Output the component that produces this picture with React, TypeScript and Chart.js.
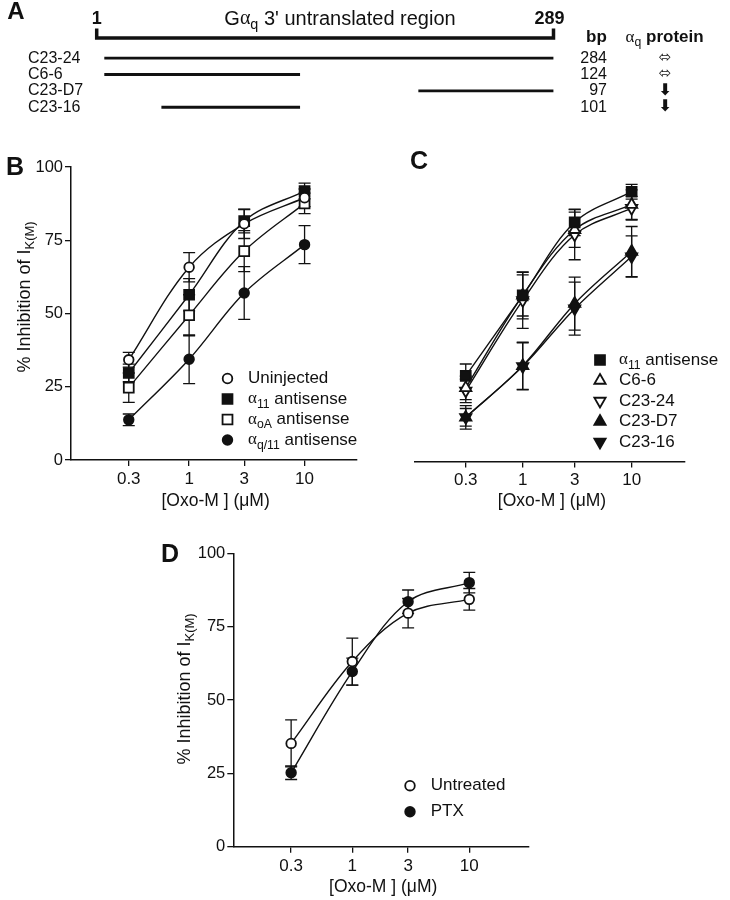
import React, { useEffect, useRef } from "react";
import { Chart, registerables } from "chart.js";

Chart.register(...registerables);

const SANS = "'Liberation Sans', Arial, Helvetica, sans-serif";
const SERIF = "'Liberation Serif', 'Times New Roman', serif";
const SYMBOL = "'DejaVu Sans', sans-serif";
const INK = "#111";

// ---------------- Panel A data ----------------
const A_REGION_START = 1;
const A_REGION_END = 289;
const A_FRAGMENTS = ["C23-24", "C6-6", "C23-D7", "C23-16"];
const A_FRAG_START = [6, 6, 204, 42];
const A_FRAG_END = [289, 129, 289, 129];
const A_FRAG_BP = ["284", "124", "97", "101"];
const A_PROTEIN = ["⬄", "⬄", "⬇", "⬇"];

// ---------------- Shared axes ----------------
const DOSES = [0.3, 1, 3, 10];
const DOSE_LABELS = ["0.3", "1", "3", "10"];
const Y_TICKS = [0, 25, 50, 75, 100];
const X_TITLE = "[Oxo-M ] (μM)";
const Y_TITLE_MAIN = "% Inhibition of I";
const Y_TITLE_SUB = "K(M)";

// ---------------- Panel B data ----------------
const B_NAME_MAIN = ["Uninjected", "α", "α", "α"];
const B_NAME_SUB = ["", "11", "oA", "q/11"];
const B_NAME_REST = ["", " antisense", " antisense", " antisense"];
const B_UNINJECTED = [34.2, 65.8, 80.6, 89.5];
const B_UNINJECTED_ERR = [2.5, 5, 5, 3];
const B_A11 = [29.7, 56.4, 81.5, 91.8];
const B_A11_ERR = [3, 5.5, 4, 2.7];
const B_AOA = [24.7, 49.4, 71.3, 87.6];
const B_AOA_ERR = [5, 7, 7, 3.5];
const B_AQ11 = [13.7, 34.4, 57.0, 73.5];
const B_AQ11_ERR = [2, 8.3, 9, 6.5];

// ---------------- Panel C data ----------------
const C_NAME_MAIN = ["α", "C6-6", "C23-24", "C23-D7", "C23-16"];
const C_NAME_SUB = ["11", "", "", "", ""];
const C_NAME_REST = [" antisense", "", "", "", ""];
const C_A11 = [29.1, 56.4, 81.2, 91.6];
const C_A11_ERR = [4, 7, 4.5, 2.5];
const C_C66 = [25.0, 56.4, 78.7, 87.2];
const C_C66_ERR = [4, 8, 6, 5];
const C_C2324 = [24.0, 54.7, 77.0, 86.0];
const C_C2324_ERR = [4, 9.5, 8.5, 4];
const C_C23D7 = [15.0, 32.5, 53.6, 71.3];
const C_C23D7_ERR = [3, 8, 9, 8.5];
const C_C2316 = [15.0, 32.3, 51.9, 69.6];
const C_C2316_ERR = [4, 8, 9, 7];

// ---------------- Panel D data ----------------
const D_NAMES = ["Untreated", "PTX"];
const D_UNTREATED = [35.2, 63.1, 79.6, 84.3];
const D_UNTREATED_ERR = [8, 8, 5, 3.7];
const D_PTX = [25.2, 59.7, 83.5, 90.0];
const D_PTX_ERR = [2.3, 4.6, 4, 3.5];

// ---------------- helpers ----------------
type Part = { t: string; sub?: boolean; serif?: boolean; bold?: boolean };
type Marker = { style: "circle" | "rect" | "triangle"; filled: boolean; rotation: number; radius: number };

const OPEN_CIRCLE: Marker = { style: "circle", filled: false, rotation: 0, radius: 4.8 };
const FILLED_CIRCLE: Marker = { style: "circle", filled: true, rotation: 0, radius: 4.8 };
const OPEN_SQUARE: Marker = { style: "rect", filled: false, rotation: 0, radius: 7 };
const FILLED_SQUARE: Marker = { style: "rect", filled: true, rotation: 0, radius: 7 };
const OPEN_UP: Marker = { style: "triangle", filled: false, rotation: 0, radius: 6.5 };
const OPEN_DOWN: Marker = { style: "triangle", filled: false, rotation: 180, radius: 6.5 };
const FILLED_UP: Marker = { style: "triangle", filled: true, rotation: 0, radius: 6.5 };
const FILLED_DOWN: Marker = { style: "triangle", filled: true, rotation: 180, radius: 6.5 };

function nameParts(main: string, sub: string, rest: string): Part[] {
  const parts: Part[] = [{ t: main, serif: /^[α-ω]$/.test(main) }];
  if (sub) parts.push({ t: sub, sub: true });
  if (rest) parts.push({ t: rest });
  return parts;
}

function partFont(p: Part, size: number) {
  const s = p.sub ? size * 0.72 : size;
  const fam = p.serif ? SERIF : SANS;
  return `${p.bold ? "bold " : ""}${s}px ${fam}`;
}

function partsWidth(ctx: CanvasRenderingContext2D, parts: Part[], size: number) {
  let w = 0;
  for (const p of parts) {
    ctx.font = partFont(p, size);
    w += ctx.measureText(p.t).width;
  }
  return w;
}

function drawParts(
  ctx: CanvasRenderingContext2D,
  parts: Part[],
  x: number,
  y: number,
  size: number,
  align: "left" | "center" | "right" = "left"
) {
  ctx.save();
  ctx.textBaseline = "middle";
  ctx.textAlign = "left";
  ctx.fillStyle = INK;
  const w = partsWidth(ctx, parts, size);
  let cx = align === "center" ? x - w / 2 : align === "right" ? x - w : x;
  for (const p of parts) {
    ctx.font = partFont(p, size);
    ctx.fillText(p.t, cx, p.sub ? y + size * 0.32 : y);
    cx += ctx.measureText(p.t).width;
  }
  ctx.restore();
}

function drawMarker(ctx: CanvasRenderingContext2D, m: Marker, x: number, y: number) {
  ctx.save();
  ctx.fillStyle = m.filled ? INK : "#fff";
  ctx.strokeStyle = INK;
  ctx.lineWidth = 1.8;
  ctx.beginPath();
  const r = m.radius;
  if (m.style === "circle") {
    ctx.arc(x, y, r, 0, Math.PI * 2);
  } else if (m.style === "rect") {
    const s = Math.SQRT1_2 * r;
    ctx.rect(x - s, y - s, 2 * s, 2 * s);
  } else {
    let rad = (m.rotation * Math.PI) / 180;
    ctx.moveTo(x + Math.sin(rad) * r, y - Math.cos(rad) * r);
    rad += (2 * Math.PI) / 3;
    ctx.lineTo(x + Math.sin(rad) * r, y - Math.cos(rad) * r);
    rad += (2 * Math.PI) / 3;
    ctx.lineTo(x + Math.sin(rad) * r, y - Math.cos(rad) * r);
    ctx.closePath();
  }
  ctx.fill();
  ctx.stroke();
  ctx.restore();
}

// ---------------- Panel A ----------------
const panelAPlugin = {
  id: "panelA",
  afterDraw(chart: any) {
    const ctx: CanvasRenderingContext2D = chart.ctx;
    const xs = chart.scales.x;
    const ys = chart.scales.y;
    const x0 = xs.getPixelForValue(A_REGION_START);
    const x1 = xs.getPixelForValue(A_REGION_END);
    ctx.save();
    ctx.strokeStyle = INK;
    ctx.fillStyle = INK;
    ctx.lineWidth = 3.5;
    ctx.lineJoin = "miter";
    ctx.beginPath();
    ctx.moveTo(x0, 28.5);
    ctx.lineTo(x0, 38);
    ctx.lineTo(x1, 38);
    ctx.lineTo(x1, 28.5);
    ctx.stroke();

    ctx.textBaseline = "middle";
    ctx.textAlign = "center";
    ctx.font = `bold 24px ${SANS}`;
    ctx.fillText("A", 16, 12);
    ctx.font = `bold 18px ${SANS}`;
    ctx.fillText(String(A_REGION_START), x0, 19);
    ctx.fillText(String(A_REGION_END), x1 - 4, 19);
    ctx.font = `bold 17px ${SANS}`;
    ctx.fillText("bp", 596.5, 37.5);
    ctx.restore();

    drawParts(
      ctx,
      [{ t: "G" }, { t: "α", serif: true }, { t: "q", sub: true }, { t: " 3' untranslated region" }],
      340,
      19,
      20,
      "center"
    );
    drawParts(
      ctx,
      [{ t: "α", serif: true }, { t: "q", sub: true }, { t: " protein", bold: true }],
      625.6,
      37.5,
      17,
      "left"
    );

    ctx.save();
    ctx.fillStyle = INK;
    ctx.textBaseline = "middle";
    A_FRAGMENTS.forEach((_, i) => {
      const y = ys.getPixelForValue(i);
      ctx.font = `16px ${SANS}`;
      ctx.textAlign = "right";
      ctx.fillText(A_FRAG_BP[i], 607, y);
      ctx.font = `${A_PROTEIN[i] === "⬇" ? "bold 16px" : "15px"} ${SYMBOL}`;
      ctx.textAlign = "center";
      ctx.fillText(A_PROTEIN[i], 665, y);
    });
    ctx.restore();
  },
};

function makePanelA(canvas: HTMLCanvasElement) {
  return new Chart(canvas, {
    type: "bar",
    data: {
      labels: A_FRAGMENTS,
      datasets: [
        {
          data: A_FRAGMENTS.map((_, i) => [A_FRAG_START[i], A_FRAG_END[i]]) as any,
          backgroundColor: INK,
          borderWidth: 0,
          barThickness: 2.2,
        },
      ],
    },
    options: {
      indexAxis: "y",
      responsive: false,
      animation: false,
      events: [],
      layout: { padding: { left: 28, top: 50, right: 176.5, bottom: 8.3 } },
      plugins: { legend: { display: false }, tooltip: { enabled: false } },
      scales: {
        x: { type: "linear", min: A_REGION_START, max: A_REGION_END, display: false },
        y: {
          type: "category",
          grid: { display: false },
          border: { display: false },
          ticks: {
            autoSkip: false,
            crossAlign: "far",
            color: INK,
            font: { family: SANS, size: 16 },
            padding: 0,
          },
          afterFit: (s: any) => {
            s.width = 68.7;
          },
        },
      },
    } as any,
    plugins: [panelAPlugin],
  });
}

// ---------------- Dose-response panels ----------------
type Series = { parts: Part[]; values: number[]; errors: number[]; marker: Marker };
type Spec = {
  width: number;
  height: number;
  area: { left: number; top: number; right: number; bottom: number };
  xMin: number;
  xMax: number;
  showY: boolean;
  series: Series[];
  letter: { t: string; x: number; y: number };
  xTitleY: number;
  yTitle?: { x: number; y: number };
  legend: { markerX: number; textX: number; y0: number; dy: number };
};

const errorBarPlugin = {
  id: "errorBars",
  beforeDatasetsDraw(chart: any) {
    const ctx: CanvasRenderingContext2D = chart.ctx;
    const xs = chart.scales.x;
    const ys = chart.scales.y;
    ctx.save();
    ctx.strokeStyle = INK;
    ctx.lineWidth = 1.3;
    chart.data.datasets.forEach((ds: any) => {
      ds.data.forEach((p: any, i: number) => {
        const e = ds.errors[i];
        const x = xs.getPixelForValue(p.x);
        const yt = ys.getPixelForValue(p.y + e);
        const yb = ys.getPixelForValue(p.y - e);
        ctx.beginPath();
        ctx.moveTo(x, yt);
        ctx.lineTo(x, yb);
        ctx.moveTo(x - 6, yt);
        ctx.lineTo(x + 6, yt);
        ctx.moveTo(x - 6, yb);
        ctx.lineTo(x + 6, yb);
        ctx.stroke();
      });
    });
    ctx.restore();
  },
};

function decoPlugin(spec: Spec) {
  return {
    id: "deco",
    afterDraw(chart: any) {
      const ctx: CanvasRenderingContext2D = chart.ctx;
      const a = chart.chartArea;
      ctx.save();
      ctx.fillStyle = INK;
      ctx.textAlign = "center";
      ctx.textBaseline = "middle";
      ctx.font = `bold 25px ${SANS}`;
      ctx.fillText(spec.letter.t, spec.letter.x, spec.letter.y);
      ctx.restore();

      drawParts(ctx, [{ t: X_TITLE }], (a.left + a.right) / 2 + 2, spec.xTitleY, 17.5, "center");

      if (spec.yTitle) {
        ctx.save();
        ctx.translate(spec.yTitle.x, spec.yTitle.y);
        ctx.rotate(-Math.PI / 2);
        drawParts(ctx, [{ t: Y_TITLE_MAIN }, { t: Y_TITLE_SUB, sub: true }], 0, 0, 18, "center");
        ctx.restore();
      }

      spec.series.forEach((s, i) => {
        const y = spec.legend.y0 + i * spec.legend.dy;
        drawMarker(ctx, s.marker, spec.legend.markerX, y);
        drawParts(ctx, s.parts, spec.legend.textX, y, 17, "left");
      });
    },
  };
}

function makeDoseChart(canvas: HTMLCanvasElement, spec: Spec) {
  const { area, width: W, height: H } = spec;
  const datasets = spec.series.map((s) => ({
    label: s.parts.map((p) => p.t).join(""),
    data: DOSES.map((d, i) => ({ x: d, y: s.values[i] })),
    errors: s.errors,
    showLine: true,
    tension: 0.35,
    borderColor: INK,
    borderWidth: 1.4,
    pointStyle: s.marker.style,
    pointRotation: s.marker.rotation,
    pointRadius: s.marker.radius,
    pointBackgroundColor: s.marker.filled ? INK : "#fff",
    pointBorderColor: INK,
    pointBorderWidth: 1.8,
    fill: false,
    clip: false,
  }));
  const tickFont = { family: SANS, size: 17 };
  return new Chart(canvas, {
    type: "scatter",
    data: { datasets } as any,
    options: {
      responsive: false,
      animation: false,
      events: [],
      layout: {
        padding: {
          left: spec.showY ? 0 : area.left,
          top: area.top,
          right: W - area.right,
          bottom: 0,
        },
      },
      plugins: { legend: { display: false }, tooltip: { enabled: false } },
      scales: {
        x: {
          type: "logarithmic",
          min: spec.xMin,
          max: spec.xMax,
          afterBuildTicks: (s: any) => {
            s.ticks = DOSES.map((v) => ({ value: v }));
          },
          ticks: {
            autoSkip: false,
            maxRotation: 0,
            minRotation: 0,
            color: INK,
            font: tickFont,
            padding: 3,
            callback: (_v: any, i: number) => DOSE_LABELS[i],
          },
          grid: { display: true, drawOnChartArea: false, drawTicks: true, tickLength: 6, color: INK, lineWidth: 1.3 },
          border: { display: true, color: INK, width: 1.5 },
          afterFit: (s: any) => {
            s.height = H - area.bottom;
          },
        },
        y: {
          type: "linear",
          display: spec.showY,
          min: 0,
          max: 100,
          afterBuildTicks: (s: any) => {
            s.ticks = Y_TICKS.map((v) => ({ value: v }));
          },
          ticks: { color: INK, font: { family: SANS, size: 16.5 }, padding: 2 },
          grid: { display: true, drawOnChartArea: false, drawTicks: true, tickLength: 6, color: INK, lineWidth: 1.3 },
          border: { display: true, color: INK, width: 1.5 },
          afterFit: (s: any) => {
            s.width = area.left;
          },
        },
      },
    } as any,
    plugins: [errorBarPlugin, decoPlugin(spec)],
  });
}

const SPEC_B: Spec = {
  width: 365,
  height: 385,
  area: { left: 71, top: 37, right: 362, bottom: 330 },
  xMin: 0.0948,
  xMax: 28.0,
  showY: true,
  series: [
    { parts: nameParts(B_NAME_MAIN[0], B_NAME_SUB[0], B_NAME_REST[0]), values: B_UNINJECTED, errors: B_UNINJECTED_ERR, marker: OPEN_CIRCLE },
    { parts: nameParts(B_NAME_MAIN[1], B_NAME_SUB[1], B_NAME_REST[1]), values: B_A11, errors: B_A11_ERR, marker: FILLED_SQUARE },
    { parts: nameParts(B_NAME_MAIN[2], B_NAME_SUB[2], B_NAME_REST[2]), values: B_AOA, errors: B_AOA_ERR, marker: OPEN_SQUARE },
    { parts: nameParts(B_NAME_MAIN[3], B_NAME_SUB[3], B_NAME_REST[3]), values: B_AQ11, errors: B_AQ11_ERR, marker: FILLED_CIRCLE },
  ],
  letter: { t: "B", x: 15, y: 38 },
  xTitleY: 371.5,
  yTitle: { x: 25, y: 167 },
  legend: { markerX: 227.5, textX: 248, y0: 248.5, dy: 20.5 },
};

const SPEC_C: Spec = {
  width: 365,
  height: 385,
  area: { left: 25, top: 37, right: 320, bottom: 331.5 },
  xMin: 0.1026,
  xMax: 30.9,
  showY: false,
  series: [
    { parts: nameParts(C_NAME_MAIN[0], C_NAME_SUB[0], C_NAME_REST[0]), values: C_A11, errors: C_A11_ERR, marker: FILLED_SQUARE },
    { parts: nameParts(C_NAME_MAIN[1], C_NAME_SUB[1], C_NAME_REST[1]), values: C_C66, errors: C_C66_ERR, marker: OPEN_UP },
    { parts: nameParts(C_NAME_MAIN[2], C_NAME_SUB[2], C_NAME_REST[2]), values: C_C2324, errors: C_C2324_ERR, marker: OPEN_DOWN },
    { parts: nameParts(C_NAME_MAIN[3], C_NAME_SUB[3], C_NAME_REST[3]), values: C_C23D7, errors: C_C23D7_ERR, marker: FILLED_UP },
    { parts: nameParts(C_NAME_MAIN[4], C_NAME_SUB[4], C_NAME_REST[4]), values: C_C2316, errors: C_C2316_ERR, marker: FILLED_DOWN },
  ],
  letter: { t: "C", x: 54, y: 32 },
  xTitleY: 371.5,
  legend: { markerX: 235, textX: 254, y0: 230, dy: 20.5 },
};

const SPEC_D: Spec = {
  width: 420,
  height: 390,
  area: { left: 83.3, top: 43.3, right: 379, bottom: 336.7 },
  xMin: 0.0961,
  xMax: 32.4,
  showY: true,
  series: [
    { parts: [{ t: D_NAMES[0] }], values: D_UNTREATED, errors: D_UNTREATED_ERR, marker: OPEN_CIRCLE },
    { parts: [{ t: D_NAMES[1] }], values: D_PTX, errors: D_PTX_ERR, marker: FILLED_CIRCLE },
  ],
  letter: { t: "D", x: 20, y: 45 },
  xTitleY: 377,
  yTitle: { x: 35, y: 179 },
  legend: { markerX: 260, textX: 280.7, y0: 275.7, dy: 26 },
};

export default function App() {
  const aRef = useRef<HTMLCanvasElement>(null);
  const bRef = useRef<HTMLCanvasElement>(null);
  const cRef = useRef<HTMLCanvasElement>(null);
  const dRef = useRef<HTMLCanvasElement>(null);

  useEffect(() => {
    const charts = [
      makePanelA(aRef.current!),
      makeDoseChart(bRef.current!, SPEC_B),
      makeDoseChart(cRef.current!, SPEC_C),
      makeDoseChart(dRef.current!, SPEC_D),
    ];
    return () => charts.forEach((c) => c.destroy());
  }, []);

  const cv = (left: number, top: number, w: number, h: number): React.CSSProperties => ({
    position: "absolute",
    left,
    top,
    width: w,
    height: h,
  });

  return (
    <div style={{ position: "absolute", left: 0, top: 0, width: 730, height: 900, background: "#fff", overflow: "hidden" }}>
      <canvas ref={aRef} width={730} height={125} style={cv(0, 0, 730, 125)} />
      <canvas ref={bRef} width={365} height={385} style={cv(0, 130, 365, 385)} />
      <canvas ref={cRef} width={365} height={385} style={cv(365, 130, 365, 385)} />
      <canvas ref={dRef} width={420} height={390} style={cv(150, 510, 420, 390)} />
    </div>
  );
}
